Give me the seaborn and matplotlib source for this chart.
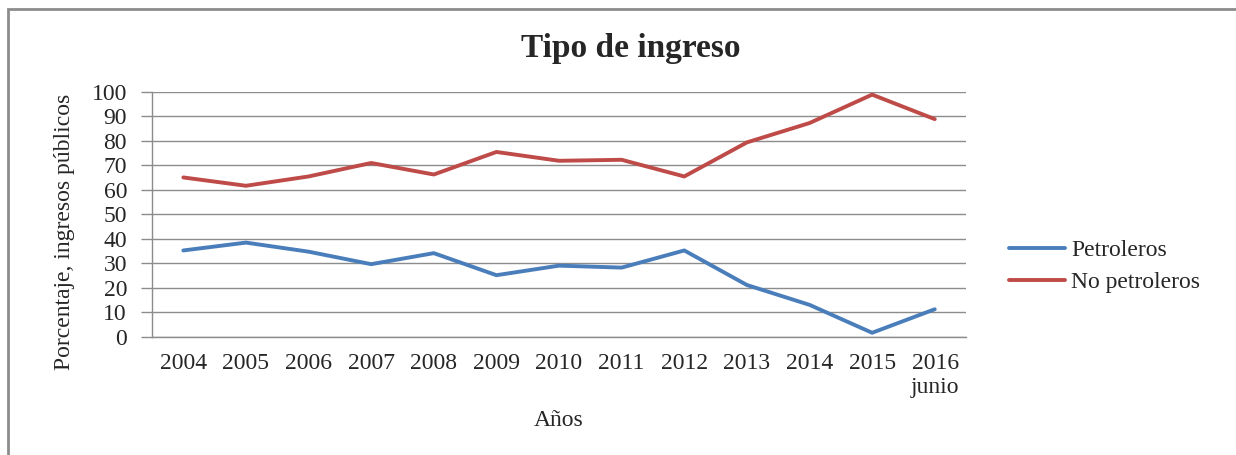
import matplotlib
matplotlib.use('Agg')
import matplotlib.pyplot as plt
import pandas as pd
import seaborn as sns
from matplotlib.patches import Rectangle

years = ['2004', '2005', '2006', '2007', '2008', '2009', '2010', '2011', '2012', '2013', '2014', '2015', '2016\njunio']
petroleros = [35.2, 38.4, 34.7, 29.6, 34.1, 25.1, 29.0, 28.2, 35.2, 21.1, 13.0, 1.6, 11.2]
no_petroleros = [65.0, 61.6, 65.4, 70.9, 66.2, 75.4, 71.8, 72.2, 65.4, 79.3, 87.2, 98.8, 88.8]
series_names = ['Petroleros', 'No petroleros']
series_colors = {'Petroleros': '#4A7EBB', 'No petroleros': '#BE4B48'}

df = pd.DataFrame({
    'Año': years * 2,
    'Valor': petroleros + no_petroleros,
    'Serie': [series_names[0]] * len(years) + [series_names[1]] * len(years),
})

sns.set_style('white')
plt.rcParams['font.family'] = ['Liberation Serif', 'DejaVu Serif']

fig = plt.figure(figsize=(12.36, 4.55), dpi=100)
ax = fig.add_axes([0.123, 0.26, 0.6586, 0.5385])

sns.lineplot(data=df, x='Año', y='Valor', hue='Serie', palette=series_colors,
             sort=False, linewidth=2.8, ax=ax, legend=True)

ax.set_ylim(0, 100)
ax.set_xlim(-0.5, len(years) - 0.5)
ax.set_yticks(range(0, 101, 10))
ax.yaxis.grid(True, color='#8C8C8C', linewidth=1.0)
ax.set_axisbelow(True)
for side in ['top', 'right']:
    ax.spines[side].set_visible(False)
for side in ['left', 'bottom']:
    ax.spines[side].set_color('#8C8C8C')
    ax.spines[side].set_linewidth(1.0)
ax.tick_params(axis='y', left=True, length=8, width=1, color='#8C8C8C', labelsize=17, pad=10)
ax.tick_params(axis='x', bottom=False, labelsize=17, pad=8)
ax.set_xlabel('')
ax.set_ylabel('')

ax.set_xticks(range(len(years)))
ax.set_xticklabels(years, ha='center', multialignment='right')

fig.text(0.51, 0.893, 'Tipo de ingreso', ha='center', va='center', fontsize=24, fontweight='bold')
fig.text(0.452, 0.075, 'Años', ha='center', va='center', fontsize=17)
fig.text(0.052, 0.49, 'Porcentaje, ingresos públicos', ha='center', va='center', fontsize=17, rotation=90)

handles, labels = ax.get_legend_handles_labels()
ax.legend(handles, labels, loc='center left', bbox_to_anchor=(0.799, 0.415),
          bbox_transform=fig.transFigure, frameon=False, fontsize=17,
          handlelength=2.4, handletextpad=0.25, labelspacing=0.45)

fig.patches.append(Rectangle((0.0065, -0.05), 1.1, 1.03, transform=fig.transFigure,
                             fill=False, edgecolor='#8C8C8C', linewidth=2))

fig.savefig('out.png', dpi=100)
